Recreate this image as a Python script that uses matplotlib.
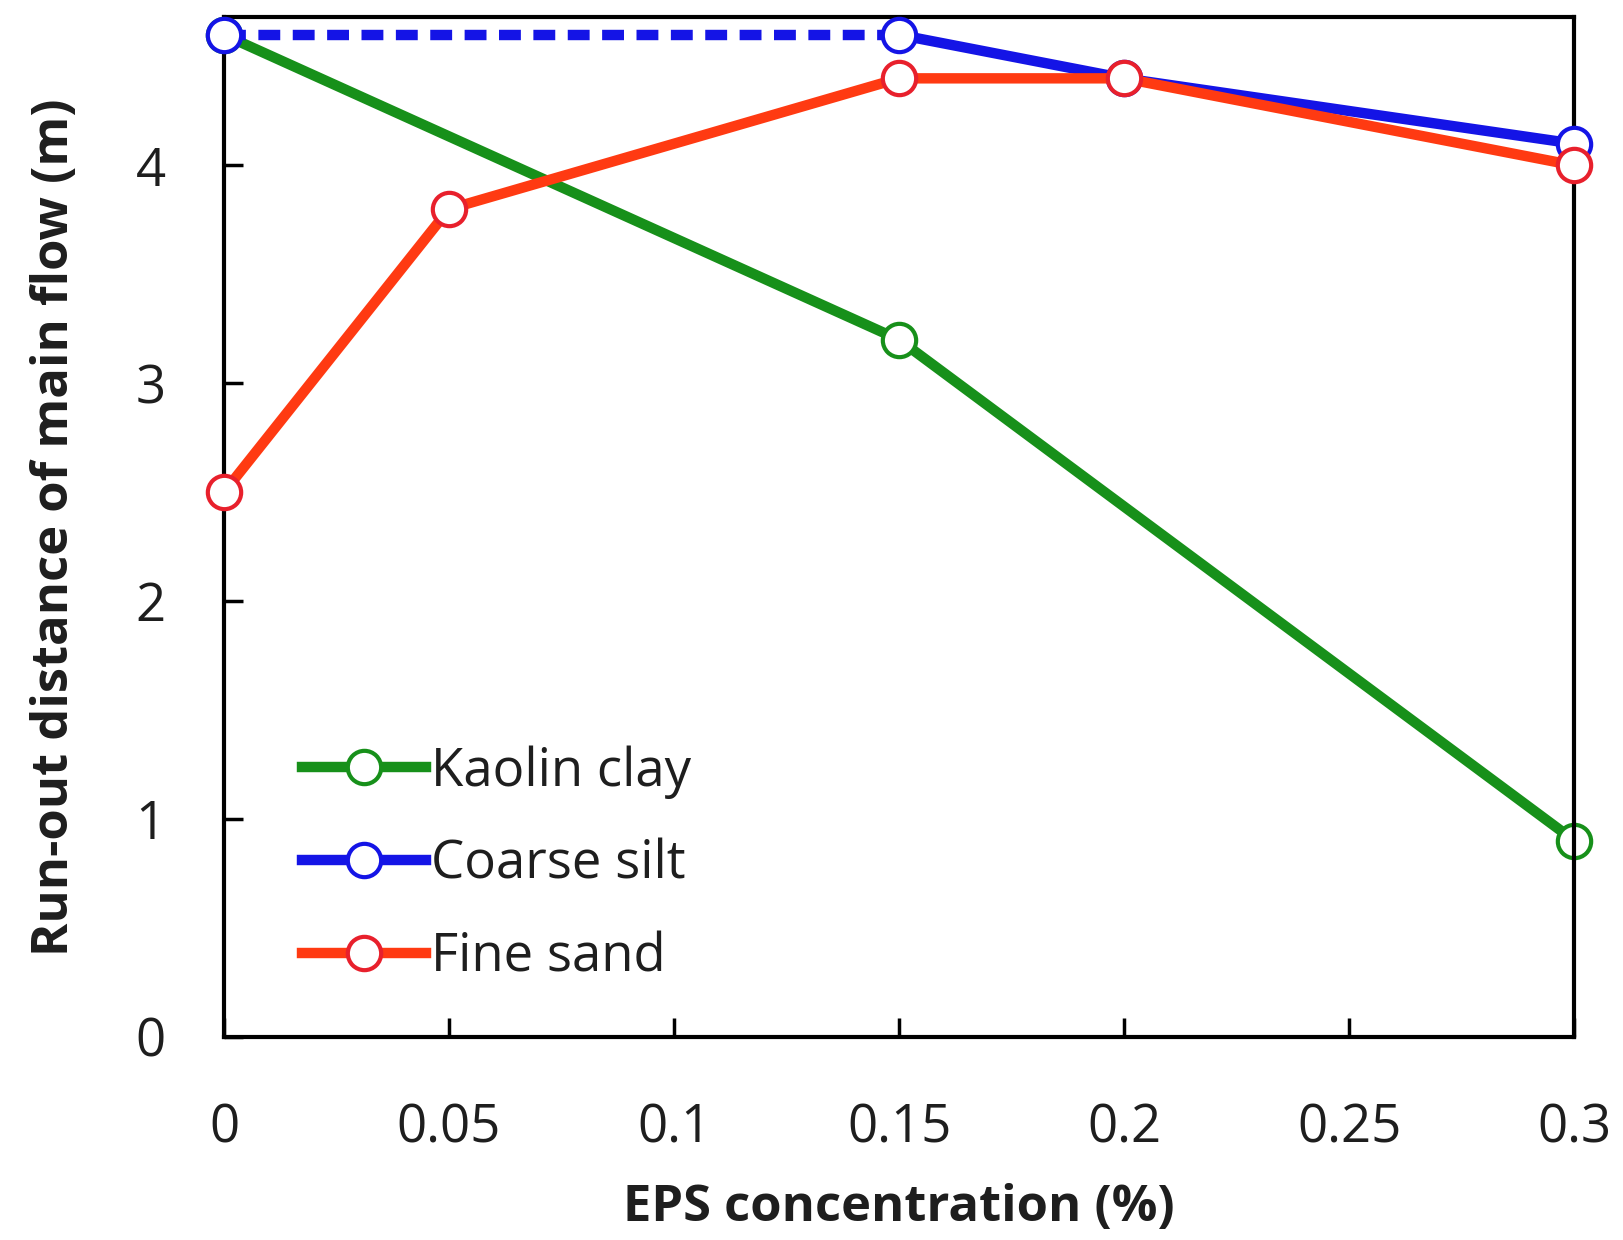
import matplotlib
matplotlib.use("Agg")
from matplotlib import pyplot as plt

plt.rcParams['font.family'] = ['Open Sans', 'DejaVu Sans']

# EPS concentration (%)
eps_kaolin = [0, 0.15, 0.3]
eps_silt_dash = [0, 0.15]
eps_silt = [0.15, 0.2, 0.3]
eps_sand = [0, 0.05, 0.15, 0.2, 0.3]

# run-out distance of main flow (m)
kaolin = [4.6, 3.2, 0.9]
silt_dash = [4.6, 4.6]
silt = [4.6, 4.4, 4.1]
sand = [2.5, 3.8, 4.4, 4.4, 4.0]

xticks = [0, 0.05, 0.1, 0.15, 0.2, 0.25, 0.3]
xtick_labels = ['0', '0.05', '0.1', '0.15', '0.2', '0.25', '0.3']
yticks = [0, 1, 2, 3, 4]

GREEN = '#17901a'
BLUE = '#1414e6'
RED = '#ff3a12'
RED_EDGE = '#e8202c'
TXT = '#1e1e1e'

fig = plt.figure(figsize=(16.23, 12.40), dpi=100)
ax = fig.add_axes([0.138, 0.164, 0.832, 0.822])

lw = 7.5
ms = 24
mew = 3

ax.plot(eps_silt_dash, silt_dash, color=BLUE, lw=lw, dashes=(2.1, 1.2), zorder=3)
ax.plot(eps_silt, silt, color=BLUE, lw=lw, marker='o', ms=ms, mfc='white', mec=BLUE,
        mew=mew, clip_on=False, zorder=3, label='Coarse silt')
ax.plot(eps_kaolin, kaolin, color=GREEN, lw=lw, marker='o', ms=ms, mfc='white', mec=GREEN,
        mew=mew, clip_on=False, zorder=2, label='Kaolin clay')
ax.plot(eps_sand, sand, color=RED, lw=lw, marker='o', ms=ms, mfc='white', mec=RED_EDGE,
        mew=mew, clip_on=False, zorder=4, label='Fine sand')
# marker at origin for coarse silt on top
ax.plot(eps_silt_dash[:1], silt_dash[:1], ls='none', marker='o', ms=ms, mfc='white', mec=BLUE,
        mew=mew, clip_on=False, zorder=5)

ax.set_xlim(0, 0.3)
ax.set_ylim(0, 4.68)
ax.set_xticks(xticks)
ax.set_xticklabels(xtick_labels)
ax.set_yticks(yticks)

for s in ax.spines.values():
    s.set_linewidth(3)
ax.tick_params(direction='in', length=14, width=2.5, labelsize=38, pad=42,
               top=False, right=False, colors='black', labelcolor=TXT)
ax.tick_params(axis='x', pad=47)

ax.set_xlabel('EPS concentration (%)', fontsize=36.5, fontweight='bold', labelpad=20, color=TXT)
ax.set_ylabel('Run-out distance of main flow (m)', fontsize=36.5, fontweight='bold',
              labelpad=40, color=TXT)

h, l = ax.get_legend_handles_labels()
order = [1, 0, 2]
leg = ax.legend([h[i] for i in order], [l[i] for i in order], loc='lower left',
                bbox_to_anchor=(0.042, 0.03), frameon=False, fontsize=38, handlelength=2.35,
                handletextpad=0.1, labelspacing=0.75, borderaxespad=0)
for t in leg.get_texts():
    t.set_color(TXT)

fig.savefig('out.png', dpi=100)
